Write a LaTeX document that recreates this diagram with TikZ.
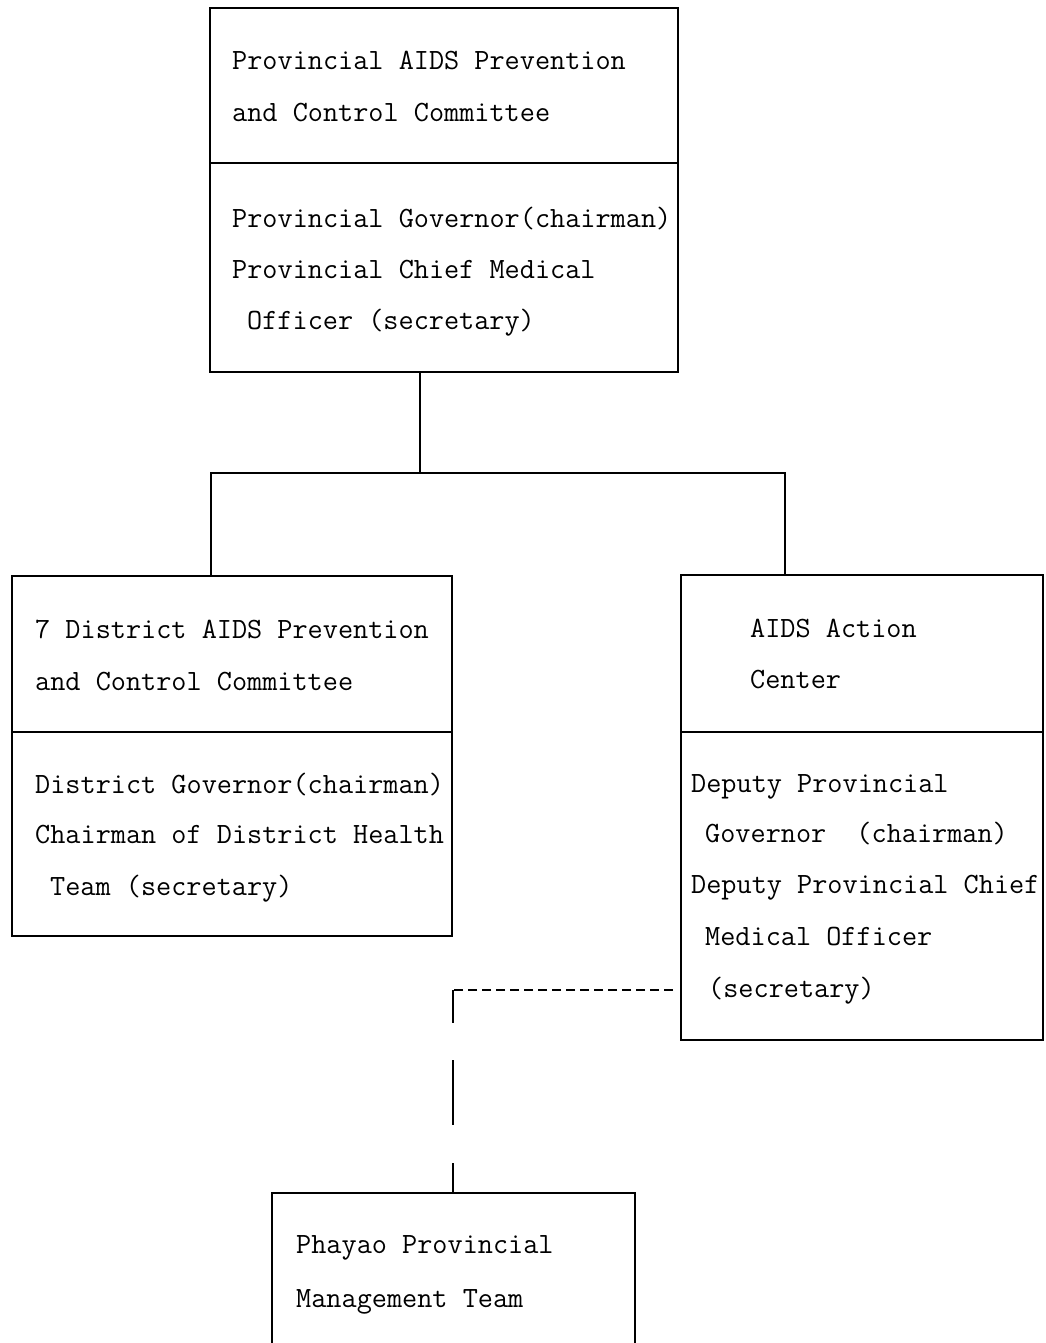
\documentclass[tikz,border=0pt]{standalone}
\begin{document}
\begin{tikzpicture}[x=1pt,y=-1pt,
  orgbox/.style={draw=black,line width=2pt,inner sep=0pt,rectangle},
  divline/.style={line width=2pt,black},
  lbl/.style={anchor=base west,inner sep=0pt,font=\ttfamily\fontsize{29.4}{34}\selectfont},
  conn/.style={line width=2pt,black},
  dashconn/.style={line width=2pt,black,dash pattern=on 9pt off 5pt}]
\useasboundingbox (0,0) rectangle (1046,1343);
\fill[white] (0,0) rectangle (1046,1343);
\clip (0,0) rectangle (1046,1343);

% boxes
\node[orgbox,minimum width=468pt,minimum height=364pt] (top) at (444,190) {};
\draw[divline] (top.west |- 0,163) -- (top.east |- 0,163);

\node[orgbox,minimum width=440pt,minimum height=360pt] (left) at (232,756) {};
\draw[divline] (left.west |- 0,732) -- (left.east |- 0,732);

\node[orgbox,minimum width=362pt,minimum height=465pt] (right) at (862,807.5) {};
\draw[divline] (right.west |- 0,732) -- (right.east |- 0,732);

\node[orgbox,minimum width=363pt,minimum height=220pt] (bottom) at (453.5,1303) {};

% texts: top box
\node[lbl] (t1) at (232,70) {Provincial AIDS Prevention};
\node[lbl] (t2) at (232,122) {and Control Committee};
\node[lbl] (t3) at (232,227) {Provincial Governor(chairman)};
\node[lbl] (t4) at (232,278) {Provincial Chief Medical};
\node[lbl] (t5) at (247,329) {Officer (secretary)};

% left box
\node[lbl] (l1) at (35,638) {7 District AIDS Prevention};
\node[lbl] (l2) at (35,690) {and Control Committee};
\node[lbl] (l3) at (35,793) {District Governor(chairman)};
\node[lbl] (l4) at (35,843) {Chairman of District Health};
\node[lbl] (l5) at (50,895) {Team (secretary)};

% right box
\node[lbl] (r1) at (750,637) {AIDS Action};
\node[lbl] (r2) at (750,688) {Center};
\node[lbl] (r3) at (691,792) {Deputy Provincial};
\node[lbl] (r4) at (705,842) {Governor\hspace{15pt} (chairman)};
\node[lbl] (r5) at (691,893) {Deputy Provincial Chief};
\node[lbl] (r6) at (705,945) {Medical Officer};
\node[lbl] (r7) at (708,997) {(secretary)};

% bottom box
\node[lbl] (b1) at (296,1253) {Phayao Provincial};
\node[lbl] (b2) at (296,1307) {Management Team};

% connectors
\coordinate (j1) at (420,473);
\coordinate (jl) at (211,473);
\coordinate (jr) at (785,473);
\draw[conn] (j1 |- top.south) -- (j1);
\draw[conn] (jl |- left.north) -- (jl) -- (jr) -- (jr |- right.north);

\coordinate (dr) at (673,990);
\coordinate (dc) at (453,990);
\draw[dashconn] (dr) -- (dc);
\draw[conn,dash pattern=on 33pt off 37pt on 65pt off 38pt on 40pt] (dc) -- (dc |- bottom.north);
\end{tikzpicture}
\end{document}
